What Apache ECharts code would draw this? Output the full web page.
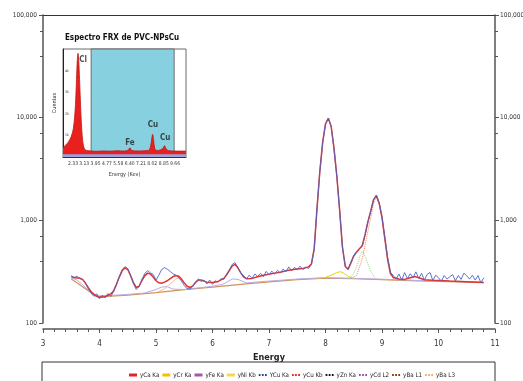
<!DOCTYPE html>
<html><head><meta charset="utf-8">
<script src="https://cdn.jsdelivr.net/npm/echarts@6/dist/echarts.min.js"></script>
<style>html,body{margin:0;padding:0;background:#fff}#c{width:523px;height:381px}</style>
</head><body><div id="c"></div>
<script>
const FONT = "'DejaVu Sans Condensed','Liberation Sans Narrow','Liberation Sans',Arial,sans-serif";

// Measured spectrum (blue) [energy keV, counts]
const measured = [[3.50,290],[3.55,276],[3.60,286],[3.65,270],[3.70,265],[3.75,248],[3.80,215],[3.85,196],[3.90,182],[3.95,192],
[4.00,172],[4.05,186],[4.10,176],[4.15,194],[4.20,182],[4.25,202],[4.30,236],[4.35,282],[4.40,330],[4.45,354],
[4.50,338],[4.55,290],[4.60,242],[4.65,212],[4.70,226],[4.75,266],[4.80,302],[4.85,324],[4.90,308],[4.95,298],
[5.00,262],[5.05,292],[5.10,332],[5.15,346],[5.20,334],[5.25,318],[5.30,302],[5.35,292],[5.40,276],[5.45,256],
[5.50,232],[5.55,216],[5.60,214],[5.65,226],[5.70,252],[5.75,268],[5.80,254],[5.85,262],[5.90,240],[5.95,262],
[6.00,238],[6.05,258],[6.10,250],[6.15,270],[6.20,266],[6.25,296],[6.30,332],[6.35,372],[6.40,388],[6.45,344],
[6.50,308],[6.55,290],[6.60,268],[6.65,292],[6.70,272],[6.75,300],[6.80,284],[6.85,305],[6.90,282],[6.95,318],
[7.00,296],[7.05,320],[7.10,298],[7.15,326],[7.20,308],[7.25,335],[7.30,316],[7.35,352],[7.40,322],[7.45,348],
[7.50,330],[7.55,358],[7.60,332],[7.65,350],[7.70,340],[7.75,372],[7.80,520],[7.85,1300],[7.90,3000],[7.95,5700],
[8.00,8700],[8.05,9900],[8.10,8200],[8.15,5000],[8.20,2700],[8.25,1250],[8.30,540],[8.35,360],[8.40,330],[8.45,390],
[8.50,455],[8.55,495],[8.60,530],[8.65,560],[8.70,720],[8.75,960],[8.80,1220],[8.85,1580],[8.90,1760],[8.95,1480],
[9.00,1080],[9.05,680],[9.10,430],[9.15,312],[9.20,290],[9.25,268],[9.30,300],[9.35,262],[9.40,310],[9.45,270],
[9.50,302],[9.55,278],[9.60,315],[9.65,272],[9.70,305],[9.75,262],[9.80,298],[9.85,310],[9.90,260],[9.95,292],
[10.00,276],[10.05,255],[10.10,290],[10.15,268],[10.20,282],[10.25,296],[10.30,258],[10.35,290],[10.40,266],[10.45,306],
[10.50,288],[10.55,268],[10.60,292],[10.65,262],[10.70,290],[10.75,246],[10.80,275]];

// Fitted sum (red)
const fitSum = [[3.50,282],[3.55,278],[3.60,274],[3.65,274],[3.70,266],[3.75,245],[3.80,222],[3.85,202],[3.90,190],[3.95,182],
[4.00,178],[4.10,180],[4.20,192],[4.25,206],[4.30,238],[4.35,280],[4.40,322],[4.45,345],[4.50,332],[4.55,290],
[4.60,248],[4.65,222],[4.70,228],[4.75,258],[4.80,288],[4.85,306],[4.90,300],[4.95,280],[5.00,258],[5.05,246],
[5.10,244],[5.15,250],[5.20,258],[5.25,270],[5.30,282],[5.35,290],[5.40,286],[5.45,268],[5.50,246],[5.55,228],
[5.60,222],[5.65,230],[5.70,248],[5.75,262],[5.80,262],[5.85,256],[5.90,250],[6.00,248],[6.10,254],[6.20,272],
[6.25,295],[6.30,326],[6.35,360],[6.40,372],[6.45,345],[6.50,308],[6.55,282],[6.60,270],[6.70,272],[6.80,282],
[6.90,292],[7.00,298],[7.10,306],[7.20,312],[7.30,322],[7.40,330],[7.50,336],[7.60,340],[7.70,352],[7.75,375],
[7.80,530],[7.85,1320],[7.90,3020],[7.95,5750],[8.00,8700],[8.05,9850],[8.10,8250],[8.15,5050],[8.20,2720],[8.25,1260],
[8.30,550],[8.35,355],[8.40,335],[8.45,385],[8.50,450],[8.55,490],[8.60,528],[8.65,565],[8.70,725],[8.75,965],
[8.80,1230],[8.85,1590],[8.90,1740],[8.95,1470],[9.00,1070],[9.05,670],[9.10,420],[9.15,305],[9.20,278],[9.30,268],
[9.40,266],[9.50,276],[9.58,284],[9.65,276],[9.75,264],[9.90,261],[10.20,256],[10.50,252],[10.80,248]];

// Background / component curves
const background = [[3.50,268],[3.60,246],[3.70,226],[3.80,206],[3.90,189],[3.97,180],[4.50,187],[5.00,198],[5.50,211],[6.00,224],
[6.50,238],[7.00,252],[7.50,265],[8.00,273],[8.50,270],[9.00,265],[9.50,259],[10.00,254],[10.50,250],[10.80,247]];
const feComponent = [[3.50,276],[3.60,262],[3.70,236],[3.80,210],[3.90,192],[4.00,184],[4.40,188],[4.80,196],[5.00,212],[5.10,224],
[5.20,226],[5.30,214],[5.50,212],[6.00,228],[6.20,240],[6.35,268],[6.45,266],[6.60,246],[7.00,256],[7.50,268],
[8.00,276],[8.50,272],[9.00,267],[9.50,261],[10.00,256],[10.50,252],[10.80,249]];
const baL3Component = [[5.05,203],[5.15,215],[5.25,240],[5.35,268],[5.40,275],[5.45,262],[5.55,230],[5.65,212]];
const niKbComponent = [[7.85,274],[8.00,278],[8.10,292],[8.20,310],[8.26,316],[8.32,306],[8.40,285],[8.48,272]];
const znKaComponent = [[8.40,271],[8.48,290],[8.55,350],[8.62,470],[8.66,500],[8.72,420],[8.80,320],[8.88,272]];
const cuKbComponent = [[8.45,272],[8.55,290],[8.65,420],[8.72,650],[8.80,1050],[8.85,1450],[8.90,1700],[8.95,1440],[9.00,1040],[9.05,640],[9.10,390],[9.15,290],[9.22,268]];

// Inset spectrum
const insetSpectrum = [[1.61,8.5],[1.8,11],[2.0,14],[2.2,19],[2.35,26],[2.45,38],[2.52,52],[2.58,72],[2.64,90],[2.69,96],
[2.74,90],[2.8,72],[2.86,52],[2.92,34],[2.99,20],[3.07,11],[3.18,7],[3.35,6],[3.7,5.5],[4.0,5.3],[4.5,5.6],[5.0,5.4],
[5.5,5.8],[6.0,5.5],[6.3,6.5],[6.42,8.5],[6.55,6],[7.0,5.6],[7.5,5.8],[7.8,6.5],[7.92,11],[8.0,18],[8.05,21],[8.12,16],
[8.2,8],[8.35,6],[8.6,6.5],[8.8,8],[8.9,10.5],[9.0,8],[9.15,6],[9.5,5.6],[10.0,5.5],[10.45,5.5]];
const insetTicks = [2.33,3.13,3.95,4.77,5.58,6.40,7.21,8.02,8.85,9.66];
const insetPeakLabels = [{name:'Cl',value:[3.05,90]},{name:'Fe',value:[6.42,13]},{name:'Cu',value:[8.08,30]},{name:'Cu',value:[8.95,17.5]}];

const legendNames = ['yCa Ka','yCr Ka','yFe Ka','yNi Kb','YCu Ka','yCu Kb','yZn Ka','yCd L2','yBa L1','yBa L3'];
const legendColors = ['#e8202a','#f2c200','#a05aa8','#f3d94a','#2f3fa0','#e02828','#111111','#a050b0','#8b3a12','#f6b44e'];
const legendDotted = [false,false,false,false,true,true,true,true,true,true];

const chart = echarts.init(document.getElementById('c'), null, {renderer:'canvas'});
const fmt = v => Math.round(v).toLocaleString('en-US');
const line = (data, color, width, extra) => Object.assign({type:'line', data, xAxisIndex:0, yAxisIndex:0, symbol:'none', silent:true,
  lineStyle:{color, width}, z:2}, extra||{});

const series = [
  line(background, '#d4915a', 1.2),
  line(feComponent, '#b4aee6', 1),
  line(baL3Component, '#f4a878', 0.8),
  line(niKbComponent, '#efd200', 1),
  line(znKaComponent, '#98d888', 1, {lineStyle:{color:'#98d888', width:1, type:'dotted'}}),
  line(cuKbComponent, '#f08a50', 1, {lineStyle:{color:'#f08a50', width:1, type:'dotted'}}),
  line(fitSum, '#e8302a', 1.5, {z:3}),
  line(measured, '#4a66c8', 0.9, {z:4}),
  // inset
  {type:'line', xAxisIndex:2, yAxisIndex:2, data:[[3.63,5]], symbol:'none', lineStyle:{opacity:0}, z:1, silent:true,
   markArea:{silent:true, itemStyle:{color:'#86d0e0', borderColor:'#555', borderWidth:0.8},
     data:[[{xAxis:3.63, yAxis:5},{xAxis:9.6, yAxis:100}]]}},
  {type:'line', xAxisIndex:2, yAxisIndex:2, data:insetSpectrum, symbol:'none', smooth:0.3, silent:true,
   lineStyle:{color:'#c01818', width:0.8}, areaStyle:{color:'#e8201e', opacity:1}, z:3},
  {type:'line', xAxisIndex:2, yAxisIndex:2, data:[[1.61,2.5],[10.45,2.5]], symbol:'none', silent:true,
   lineStyle:{width:0}, areaStyle:{color:'#9aa0e0', opacity:1}, z:4},
  {type:'scatter', xAxisIndex:2, yAxisIndex:2, data:insetPeakLabels, symbolSize:0, silent:true, z:5,
   label:{show:true, position:'inside', formatter:'{b}', fontFamily:FONT, fontSize:8, fontWeight:'bold', color:'#222'}}
];
legendNames.forEach((n,i)=>{
  series.push({type:'line', name:n, data:[], xAxisIndex:0, yAxisIndex:0, symbol:'none',
    lineStyle:{color:legendColors[i], width:3}, itemStyle:{color:legendColors[i]}});
});
const dottedIcon = 'path://M0,0h2v2h-2z M3.5,0h2v2h-2z M7,0h2v2h-2z';
const legendData = legendNames.map((n,i)=>({name:n, icon: legendDotted[i] ? dottedIcon : 'rect'}));

const axisLineStyle = {color:'#555', width:1.5};
chart.setOption({
  animation:false,
  backgroundColor:'#fff',
  textStyle:{fontFamily:FONT},
  grid:[
    {left:43, right:28, top:15, bottom:58, containLabel:false, outerBoundsMode:'none'},
    {left:63, top:49, width:123, height:108, show:true, backgroundColor:'#fff', borderColor:'#444', borderWidth:0.8, z:0,
     containLabel:false, outerBoundsMode:'none'}
  ],
  xAxis:[
    {type:'value', gridIndex:0, min:3, max:11, interval:1, offset:6,
     axisLine:{lineStyle:axisLineStyle}, axisTick:{length:4, lineStyle:{color:'#555'}},
     minorTick:{show:true, splitNumber:5, length:3, lineStyle:{color:'#555'}},
     splitLine:{show:false}, axisLabel:{fontSize:8, color:'#333', margin:11},
     name:'Energy', nameLocation:'middle', nameGap:23, nameTextStyle:{fontSize:9, fontWeight:'bold', color:'#222'}},
    {type:'value', gridIndex:0, position:'top', min:3, max:11, axisLine:{lineStyle:{color:'#333', width:1}},
     axisTick:{show:false}, axisLabel:{show:false}, splitLine:{show:false}},
    {type:'value', gridIndex:1, min:1.61, max:10.45,
     axisLine:{lineStyle:{color:'#333', width:1}}, axisTick:{show:false}, splitLine:{show:false},
     axisLabel:{customValues:insetTicks, formatter:v=>v.toFixed(2), fontSize:5, color:'#333', margin:4},
     name:'Energy (Kev)', nameLocation:'middle', nameGap:15, nameTextStyle:{fontSize:5.5, color:'#333'}}
  ],
  yAxis:[
    {type:'log', gridIndex:0, min:100, max:100000, logBase:10, position:'left',
     axisLine:{show:true, lineStyle:axisLineStyle}, axisTick:{show:true, length:4, lineStyle:{color:'#555'}},
     minorTick:{show:true, splitNumber:3, length:3, lineStyle:{color:'#555'}},
     splitLine:{show:false}, axisLabel:{fontSize:6.5, color:'#333', margin:6, formatter:fmt},
     name:'Counts', nameLocation:'middle', nameGap:27, nameTextStyle:{fontSize:12, color:'#222'}},
    {type:'log', gridIndex:0, min:100, max:100000, logBase:10, position:'right',
     axisLine:{show:true, lineStyle:axisLineStyle}, axisTick:{show:true, length:4, lineStyle:{color:'#555'}},
     minorTick:{show:true, splitNumber:3, length:3, lineStyle:{color:'#555'}},
     splitLine:{show:false}, axisLabel:{fontSize:6.5, color:'#333', margin:5, formatter:fmt}},
    {type:'value', gridIndex:1, min:0, max:100, interval:20,
     axisLine:{show:true, lineStyle:{color:'#222', width:1}}, axisTick:{show:false}, splitLine:{show:false},
     axisLabel:{inside:true, fontSize:3.5, color:'#333', margin:2, formatter:v=> v===0||v===100 ? '' : (v/20)+'k'},
     name:'Cuentas', nameLocation:'middle', nameGap:5, nameTextStyle:{fontSize:5.5, color:'#333'}}
  ],
  legend:{data:legendData, left:124, top:367, itemWidth:8, itemHeight:3, itemGap:3, selectedMode:false,
    textStyle:{fontSize:6.2, color:'#222', fontFamily:FONT, padding:[0,0,0,-2]}},
  graphic:[
    {type:'rect', shape:{x:42, y:362, width:453, height:30}, style:{fill:'none', stroke:'#333', lineWidth:1}, silent:true},
    {type:'text', x:122, y:34, style:{text:'Espectro FRX de PVC-NPsCu', textAlign:'center', fontFamily:FONT, fontSize:8, fontWeight:'bold', fill:'#111'}, z:10}
  ],
  series
});
</script></body></html>
